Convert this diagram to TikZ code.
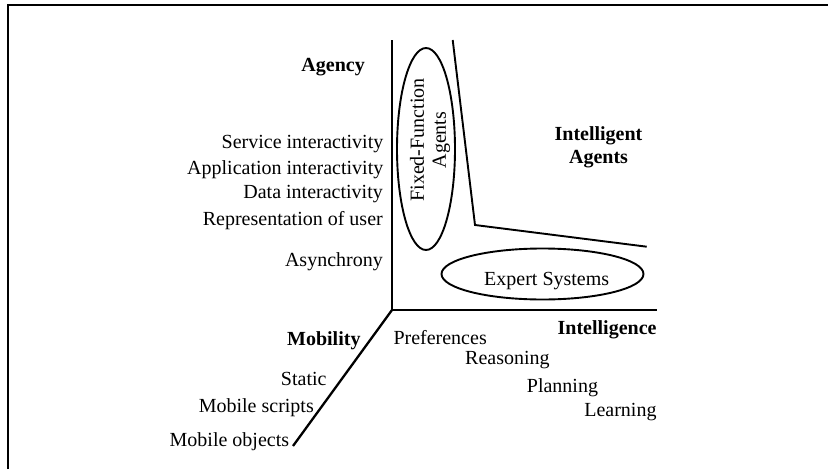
\documentclass[tikz,border=0pt]{standalone}
\usepackage{fontspec}
\setmainfont{Liberation Serif}
\begin{document}
\begin{tikzpicture}[x=1pt,y=-1pt,
  lbl/.style={inner sep=0pt,font=\fontsize{20}{23}\selectfont},
  bl/.style={inner sep=0pt,font=\fontsize{20}{23}\selectfont\bfseries},
  axis/.style={line width=2.3pt},
  edge/.style={line width=1.9pt},
  oval/.style={draw,ellipse,line width=1.9pt,inner sep=0pt}]
\useasboundingbox (0,0) rectangle (828,469);
% frame
\coordinate (f1) at (8,469);
\coordinate (f2) at (8,5);
\coordinate (f3) at (828,5);
\draw[line width=1.6pt] (f1) -- (f2) -- (f3);
% axes
\coordinate (O) at (392,310);
\coordinate (Atop) at (392,40);
\coordinate (Iend) at (657,310);
\coordinate (Mend) at (293,446);
\draw[axis] (Atop) -- (O) -- (Iend);
\draw[axis] (O) -- (Mend);
% boundary
\coordinate (b1) at (452.7,40);
\coordinate (b2) at (475,225);
\coordinate (b3) at (646.7,246.7);
\draw[edge] (b1) -- (b2) -- (b3);
% ellipses
\draw[line width=1.9pt] (426,149) ellipse [x radius=29, y radius=101];
\draw[line width=1.9pt] (542.5,274) ellipse [x radius=101, y radius=25.5];
\node[lbl,rotate=90,align=center] (ffa) at (430,140) {Fixed-Function\\[-1pt]Agents};
\node[lbl,anchor=base] (es) at (546.7,285) {Expert Systems};
\node[bl,anchor=base,align=center] (ia) at (598.5,140) {Intelligent};
\node[bl,anchor=base] (ia2) at (598.5,163.3) {Agents};
% agency labels
\node[bl,anchor=base east] (ag) at (365,71.7) {Agency};
\node[lbl,anchor=base east] (a1) at (383.5,148) {Service interactivity};
\node[lbl,anchor=base east] (a2) at (383.5,174) {Application interactivity};
\node[lbl,anchor=base east] (a3) at (383,198.5) {Data interactivity};
\node[lbl,anchor=base east] (a4) at (383,225) {Representation of user};
\node[lbl,anchor=base east] (a5) at (383,266.7) {Asynchrony};
% mobility labels
\node[bl,anchor=base east] (mob) at (360.7,345) {Mobility};
\node[lbl,anchor=base east] (m1) at (326.7,385.7) {Static};
\node[lbl,anchor=base east] (m2) at (314,412.7) {Mobile scripts};
\node[lbl,anchor=base east] (m3) at (289.3,446) {Mobile objects};
% intelligence labels
\node[bl,anchor=base east] (int) at (656.7,334.3) {Intelligence};
\node[lbl,anchor=base west] (i1) at (393.3,344.5) {Preferences};
\node[lbl,anchor=base west] (i2) at (465,364.3) {Reasoning};
\node[lbl,anchor=base west] (i3) at (526.7,392.3) {Planning};
\node[lbl,anchor=base east] (i4) at (656.7,416.7) {Learning};
\end{tikzpicture}
\end{document}
